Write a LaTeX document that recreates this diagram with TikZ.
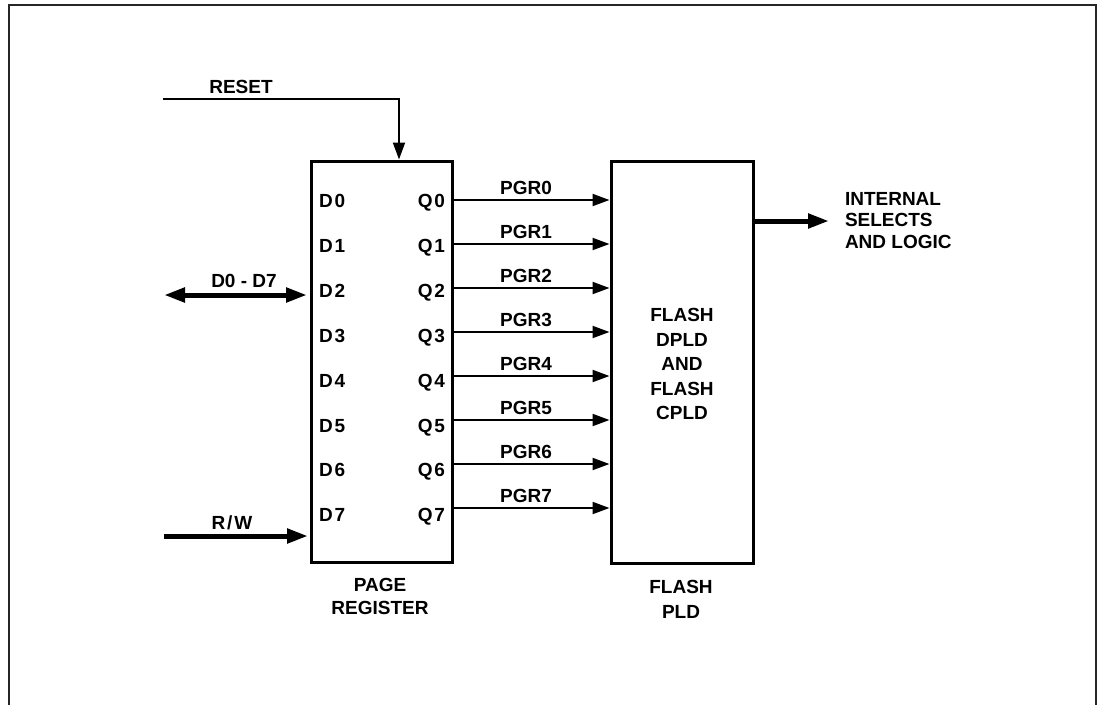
\documentclass[tikz,border=0pt]{standalone}
\usepackage{fontspec}
\setmainfont{Liberation Sans}
\newfontfamily\spacedfont[LetterSpace=10]{Liberation Sans}
\usetikzlibrary{arrows.meta}
\begin{document}
\begin{tikzpicture}[x=1pt,y=-1pt,
  every node/.style={font=\fontsize{19}{23}\selectfont\bfseries, inner sep=0pt, outer sep=0pt},
  blk/.style={draw, line width=3pt, rectangle},
  lbl/.style={text height=13.6pt, text depth=0pt},
  pinlbl/.style={lbl, font=\spacedfont\fontsize{19}{23}\selectfont\bfseries},
  thinarrow/.style={line width=2pt, -{Triangle[length=17pt,width=12pt]}},
  busarrow/.style={line width=5pt, -{Triangle[length=21pt,width=14pt]}},
  bibus/.style={line width=5pt, {Triangle[length=21pt,width=14pt]}-{Triangle[length=21pt,width=14pt]}},
  multi/.style={align=center, anchor=north}]
\useasboundingbox (0,0) rectangle (1099,705);
\draw[line width=1.5pt, black!85] (9,705) -- (9,5) -- (1096,5) -- (1096,705);

% blocks
\node[blk, minimum width=141pt, minimum height=401pt] (pr) at (381.5,361.5) {};
\node[blk, minimum width=142pt, minimum height=402pt] (fl) at (682,362) {};

% RESET
\coordinate (rst) at (163,99);
\draw[thinarrow, shorten >=1.5pt] (rst) -| ([xshift=17.5pt]pr.north);
\node[lbl] (rstlbl) at (241,87) {RESET};

% D0-D7 bus
\coordinate (dbus) at (164,295);
\draw[bibus, shorten >=4pt] (dbus) -- (dbus -| pr.west);
\node[lbl] (dbuslbl) at (244,281) {D0 - D7};

% R/W
\coordinate (rw) at (164,536);
\draw[busarrow, shorten >=3pt] (rw) -- (rw -| pr.west);
\node[pinlbl] (rwlbl) at (232,523) {R/W};

% pins and PGR lines
\foreach \i in {0,...,7} {
  \pgfmathsetmacro\ly{201+44.86*\i}
  \pgfmathsetmacro\qy{200+44*\i}
  \node[pinlbl, anchor=west] (d\i) at (319,\ly) {D\i};
  \node[pinlbl, anchor=east] (q\i) at (445,\ly) {Q\i};
  \coordinate (qp\i) at (452,\qy);
  \draw[thinarrow, shorten >=1.5pt] (qp\i) -- (qp\i -| fl.west);
  \node[lbl] (pgr\i) at (526,\qy-12) {PGR\i};
}

% flash text
\node[multi, font=\fontsize{19}{24.5}\selectfont\bfseries] (fltext) at (682,308.3) {FLASH\\DPLD\\AND\\FLASH\\CPLD};

% captions
\node[multi, font=\fontsize{19}{23}\selectfont\bfseries] (prcap) at (380,578.4) {PAGE\\REGISTER};
\node[multi, font=\fontsize{19}{25}\selectfont\bfseries] (flcap) at (681,580.4) {FLASH\\PLD};

% internal selects
\draw[busarrow] ([yshift=141pt]fl.east) -- ++(76,0) coordinate (ie);
\node[align=left, anchor=north west, font=\fontsize{19}{21.5}\selectfont\bfseries] (ietext) at (845,192.4) {INTERNAL\\SELECTS\\AND LOGIC};
\end{tikzpicture}
\end{document}
